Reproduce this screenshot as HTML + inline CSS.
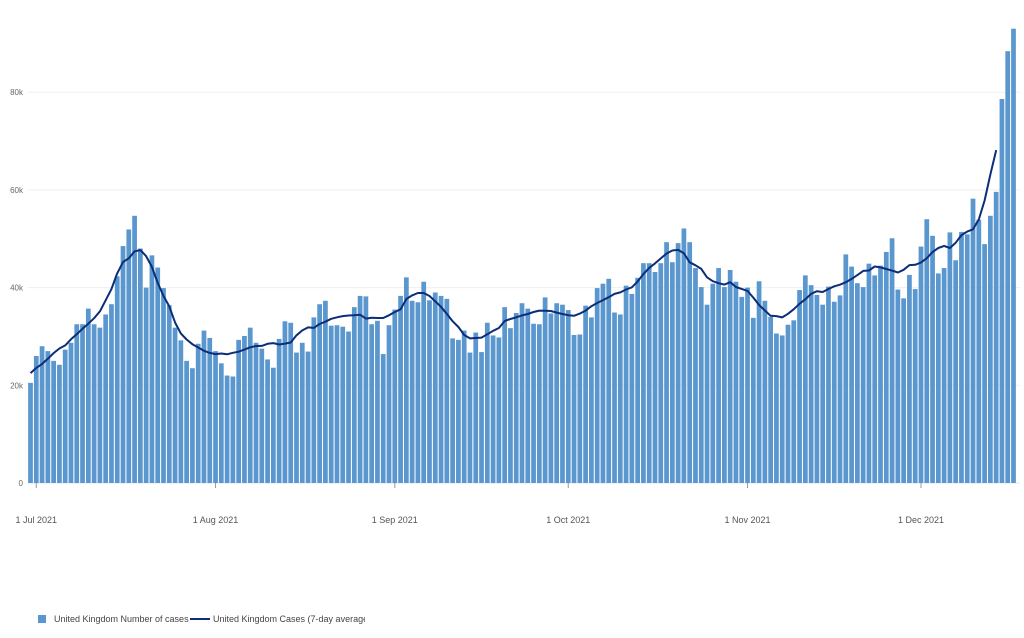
<!DOCTYPE html>
<html><head><meta charset="utf-8">
<style>
body{margin:0;background:#fff;font-family:"Liberation Sans",sans-serif;}
svg text{font-family:"Liberation Sans",sans-serif;}
</style></head>
<body>
<svg id="chart" width="1024" height="633" viewBox="0 0 1024 633" xmlns="http://www.w3.org/2000/svg">
<g id="grid"></g>
<g id="bars"></g>
<g id="avgline"></g>
<g id="axes"></g>
<g>
<rect x="38" y="615" width="8" height="8" fill="#5b97cf"/>
<text x="54" y="622" font-size="9" fill="#444">United Kingdom Number of cases</text>
<line x1="190" y1="619" x2="210" y2="619" stroke="#0c2d78" stroke-width="2"/>
<svg x="0" y="600" width="365" height="33" overflow="hidden"><text x="213" y="22" font-size="9" fill="#444">United Kingdom Cases (7-day average)</text></svg>
</g>
</svg>
<script>
const priorCases = [17.5,18.5,20];
const cases = [20.5,26,28,27,25,24.2,27.3,28.7,32.5,32.5,35.7,32.5,31.8,34.5,36.6,42.3,48.5,51.9,
54.7,48,40,46.6,44.1,39.9,36.4,31.8,29.2,25,23.5,28.5,31.2,29.7,27,24.5,22,21.8,29.3,30.1,31.8,28.7,27.5,25.3,23.6,29.5,33.1,32.8,26.7,28.7,26.9,33.9,36.6,37.3,32.2,32.3,32,31,36,38.3,38.2,32.5,33.2,26.4,32.3,35.5,38.3,42.1,37.3,37,41.2,37.4,39,38.3,37.7,29.6,29.3,31.2,26.7,30.8,26.8,32.8,30.2,29.8,36,31.7,34.8,36.8,35.7,32.6,32.5,38,34.7,36.8,36.5,35.4,30.3,30.4,36.3,33.9,39.9,40.8,41.8,34.9,34.5,40.4,38.7,42,45,45,43.2,45,49.3,45.2,49.1,52.1,49.3,44,40.1,36.5,40.8,44,40.1,43.6,41.2,38.1,40,33.8,41.3,37.3,34,30.6,30.2,32.4,33.3,39.5,42.5,40.5,38.5,36.5,40.2,37.1,38.4,46.8,44.3,40.9,40.1,44.9,42.5,44.5,47.3,50.1,39.6,37.8,42.6,39.7,48.4,54,50.6,42.9,44,51.3,45.6,51.4,50.9,58.2,53.9,48.9,54.7,59.6,78.6,88.4,93];
const yTicks = [0,20,40,60,80];
const yTickLabels = ["0","20k","40k","60k","80k"];
const xTickIndex = [1,32,63,93,124,154];
const xTickLabels = ["1 Jul 2021","1 Aug 2021","1 Sep 2021","1 Oct 2021","1 Nov 2021","1 Dec 2021"];

const NS="http://www.w3.org/2000/svg";
const x0=30.5, x1=1013.5, yBase=483, pxPerK=97.7/20;
const step=(x1-x0)/(cases.length-1);
const xs=i=>x0+i*step;
const ys=v=>yBase-v*pxPerK;
function mk(tag,attrs,parent){const e=document.createElementNS(NS,tag);for(const k in attrs)e.setAttribute(k,attrs[k]);parent.appendChild(e);return e;}
const grid=document.getElementById('grid'),axes=document.getElementById('axes'),bars=document.getElementById('bars'),al=document.getElementById('avgline');
yTicks.forEach((t,i)=>{
  const l=mk('line',{x1:28,x2:1020,y1:ys(t),y2:ys(t),stroke:i==0?'#e6e6e6':'#efefef','stroke-width':1},grid);
  
  
  const tx=mk('text',{x:23,y:ys(t)+3,'font-size':8,fill:'#666','text-anchor':'end'},axes);
  tx.textContent=yTickLabels[i];
  
  
});
xTickIndex.forEach((d,i)=>{
  const l=mk('line',{x1:xs(d),x2:xs(d),y1:yBase,y2:yBase+5,stroke:'#999','stroke-width':1},axes);
  
  
  const tx=mk('text',{x:xs(d),y:yBase+40,'font-size':9,fill:'#555','text-anchor':'middle'},axes);
  tx.textContent=xTickLabels[i];
  
  
});
const bw=step*0.82;
cases.forEach((v,i)=>{
  const r=mk('rect',{x:xs(i)-bw/2,y:ys(v),width:bw,height:yBase-ys(v),fill:'#5b97cf'},bars);
  
  
});
// centered 7-day average (uses 3 prior days), ends 3 days before last data point
const all=priorCases.concat(cases), off=priorCases.length;
const avg=[];
for(let i=0;i<cases.length-3;i++){let s=0,n=0;for(let j=i-3;j<=i+3;j++){const k=j+off;if(k>=0&&k<all.length){s+=all[k];n++;}}avg.push(s/n);}
const d=avg.map((v,i)=>(i?'L':'M')+xs(i).toFixed(1)+','+ys(v).toFixed(1)).join(' ');
const p=mk('path',{d:d,fill:'none',stroke:'#0c2d78','stroke-width':2,'stroke-linejoin':'round'},al);


</script>
</body></html>
